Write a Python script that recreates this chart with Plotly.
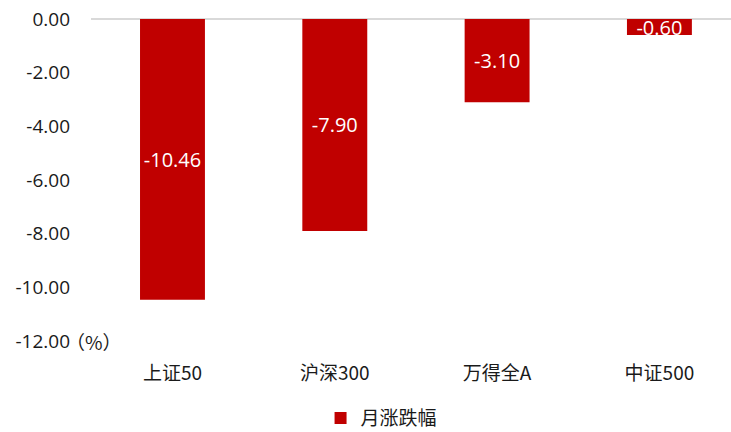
import plotly.graph_objects as go

categories = ["上证50", "沪深300", "万得全A", "中证500"]
values = [-10.46, -7.90, -3.10, -0.60]
series_name = "月涨跌幅"
tick_vals = [0, -2, -4, -6, -8, -10, -12]
tick_text = ["0.00", "-2.00", "-4.00", "-6.00", "-8.00", "-10.00", "-12.00"]

font_family = "Open Sans, Noto Sans CJK SC, sans-serif"
cjk_family = "Noto Sans CJK SC, sans-serif"
txt_color = "#1a1a1a"

fig = go.Figure()
fig.add_trace(go.Bar(
    x=list(range(len(categories))),
    y=values,
    name=series_name,
    marker=dict(color="#C00000", line=dict(width=0)),
    width=0.4,
    text=[f"{v:.2f}" for v in values],
    textposition="inside",
    insidetextanchor="middle",
    constraintext="none",
    textfont=dict(color="white", size=20, family=font_family),
    showlegend=True,
))

fig.update_layout(
    width=731, height=432,
    margin=dict(l=91, r=0, t=19, b=91, autoexpand=False),
    plot_bgcolor="white", paper_bgcolor="white",
    font=dict(family=font_family, size=19, color=txt_color),
    xaxis=dict(
        range=[-0.502, 3.441],
        tickmode="array",
        tickvals=list(range(len(categories))),
        ticktext=categories,
        showgrid=False, zeroline=False, showline=False,
        ticks="", ticklabelstandoff=19,
        tickfont=dict(size=19, color=txt_color, family=cjk_family),
    ),
    yaxis=dict(
        range=[-12, 0],
        tickmode="array",
        tickvals=tick_vals,
        ticktext=tick_text,
        showgrid=False,
        zeroline=True, zerolinecolor="#d9d9d9", zerolinewidth=1.5,
        showline=False, ticks="",
        ticklabelstandoff=20,
        tickfont=dict(size=19, color=txt_color),
    ),
    legend=dict(
        orientation="h", x=0.454, xanchor="center",
        yref="container", y=0.032, yanchor="middle",
        font=dict(size=19, color=txt_color, family=cjk_family),
        itemwidth=30,
    ),
    bargap=0.6,
)

fig.add_annotation(
    text="（%）", xref="paper", yref="y",
    x=-0.042, y=-12, xanchor="left", yanchor="middle",
    showarrow=False, font=dict(size=19, color=txt_color, family=cjk_family),
)

fig.write_html("out.html")
